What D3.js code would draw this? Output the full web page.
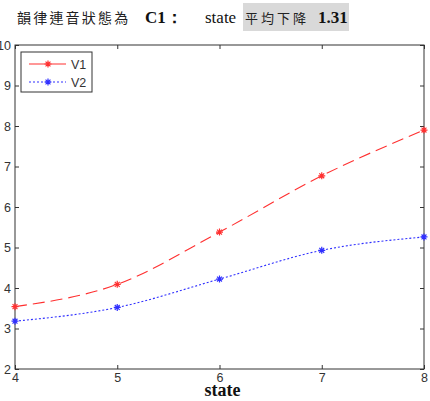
<!DOCTYPE html>
<html>
<head>
<meta charset="utf-8">
<script src="https://d3js.org/d3.v7.min.js"></script>
<style>
  body { margin: 0; background: #fff; }
  svg { display: block; }
</style>
</head>
<body>
<div id="chart"></div>
<script>
// data
const states = [4, 5, 6, 7, 8];
const v1 = [3.54, 4.09, 5.38, 6.77, 7.90];
const v2 = [3.18, 3.52, 4.22, 4.93, 5.26];
const xTicks = [4, 5, 6, 7, 8];
const yTicks = [2, 3, 4, 5, 6, 7, 8, 9, 10];
const seriesNames = ['V1', 'V2'];

const W = 430, H = 401;
const margin = {top: 45, right: 6, bottom: 32, left: 15};
const iw = W - margin.left - margin.right;
const ih = H - margin.top - margin.bottom;

const svg = d3.select('#chart').append('svg')
  .attr('width', W).attr('height', H);

// title line
const title = svg.append('g');
title.append('rect')
  .attr('x', 243).attr('y', 3).attr('width', 106).attr('height', 28)
  .attr('fill', '#d9d9d9');
title.append('text')
  .attr('x', 17).attr('y', 23)
  .attr('font-family', '"Noto Sans CJK TC", sans-serif')
  .attr('font-size', 14).attr('letter-spacing', 2.2).attr('fill', '#222')
  .text('韻律連音狀態為');
title.append('text')
  .attr('x', 145).attr('y', 23)
  .attr('font-family', '"Liberation Serif", serif')
  .attr('font-size', 17).attr('font-weight', 'bold').attr('fill', '#111')
  .text('C1：');
title.append('text')
  .attr('x', 205).attr('y', 23)
  .attr('font-family', '"Liberation Serif", serif')
  .attr('font-size', 17).attr('fill', '#111')
  .text('state');
title.append('text')
  .attr('x', 245).attr('y', 23)
  .attr('font-family', '"Noto Sans CJK TC", sans-serif')
  .attr('font-size', 13).attr('letter-spacing', 3).attr('fill', '#222')
  .text('平均下降');
title.append('text')
  .attr('x', 318).attr('y', 23)
  .attr('font-family', '"Liberation Serif", serif')
  .attr('font-size', 17).attr('font-weight', 'bold').attr('fill', '#111')
  .text('1.31');

const g = svg.append('g').attr('transform', `translate(${margin.left},${margin.top})`);

const x = d3.scaleLinear().domain([4, 8]).range([0, iw]);
const y = d3.scaleLinear().domain([2, 10]).range([ih, 0]);

const axisColor = '#333';
const tickStyle = sel => {
  sel.select('.domain').remove();
  sel.selectAll('.tick line').attr('stroke', axisColor);
  sel.selectAll('.tick text')
    .attr('fill', '#333')
    .attr('font-family', '"Liberation Sans", Arial, sans-serif')
    .attr('font-size', 12.5);
};

// inward ticks on all four sides, MATLAB style
g.append('g').attr('transform', `translate(0,${ih})`)
  .call(d3.axisBottom(x).tickValues(xTicks).tickSize(-4).tickPadding(4).tickFormat(d3.format('d')))
  .call(tickStyle);
g.append('g')
  .call(d3.axisTop(x).tickValues(xTicks).tickSize(-4).tickFormat(''))
  .call(tickStyle);
g.append('g')
  .call(d3.axisLeft(y).tickValues(yTicks).tickSize(-4).tickPadding(4).tickFormat(d3.format('d')))
  .call(tickStyle);
g.append('g').attr('transform', `translate(${iw},0)`)
  .call(d3.axisRight(y).tickValues(yTicks).tickSize(-4).tickFormat(''))
  .call(tickStyle);

g.append('rect')
  .attr('width', iw).attr('height', ih)
  .attr('fill', 'none').attr('stroke', axisColor).attr('stroke-width', 1);

// lines
const series = [
  {name: seriesNames[0], values: v1, color: '#ff3030', dash: '12,6'},
  {name: seriesNames[1], values: v2, color: '#3030ff', dash: '2,2'}
];

const line = d3.line()
  .x((d, i) => x(states[i]))
  .y(d => y(d))
  .curve(d3.curveMonotoneX);

const star = (sel, color) => {
  const s = 3.5;
  sel.append('path')
    .attr('d', `M${-s},0H${s}M0,${-s}V${s}M${-s*0.7},${-s*0.7}L${s*0.7},${s*0.7}M${-s*0.7},${s*0.7}L${s*0.7},${-s*0.7}`)
    .attr('stroke', color).attr('stroke-width', 1.2).attr('fill', 'none');
};

series.forEach(s => {
  g.append('path')
    .datum(s.values)
    .attr('d', line)
    .attr('fill', 'none')
    .attr('stroke', s.color)
    .attr('stroke-width', 1.1)
    .attr('stroke-dasharray', s.dash);
  s.values.forEach((v, i) => {
    g.append('g')
      .attr('transform', `translate(${x(states[i])},${y(v)})`)
      .call(star, s.color);
  });
});

// legend
const lg = svg.append('g').attr('transform', 'translate(21,52)');
lg.append('rect')
  .attr('width', 71).attr('height', 40)
  .attr('fill', '#fff').attr('stroke', axisColor).attr('stroke-width', 1);
series.forEach((s, i) => {
  const yy = 12 + i * 18;
  lg.append('line')
    .attr('x1', 8).attr('x2', 45).attr('y1', yy).attr('y2', yy)
    .attr('stroke', s.color).attr('stroke-width', 1.1)
    .attr('stroke-dasharray', i === 0 ? null : '2,2');
  lg.append('g').attr('transform', `translate(27,${yy})`).call(star, s.color);
  lg.append('text')
    .attr('x', 50).attr('y', yy + 4.5)
    .attr('font-family', '"Liberation Sans", Arial, sans-serif')
    .attr('font-size', 12.5).attr('fill', '#333')
    .text(s.name);
});

// x label
svg.append('text')
  .attr('x', margin.left + iw / 2 + 3).attr('y', 396)
  .attr('text-anchor', 'middle')
  .attr('font-family', '"Liberation Serif", serif')
  .attr('font-size', 18).attr('font-weight', 'bold').attr('fill', '#111')
  .text('state');
</script>
</body>
</html>
